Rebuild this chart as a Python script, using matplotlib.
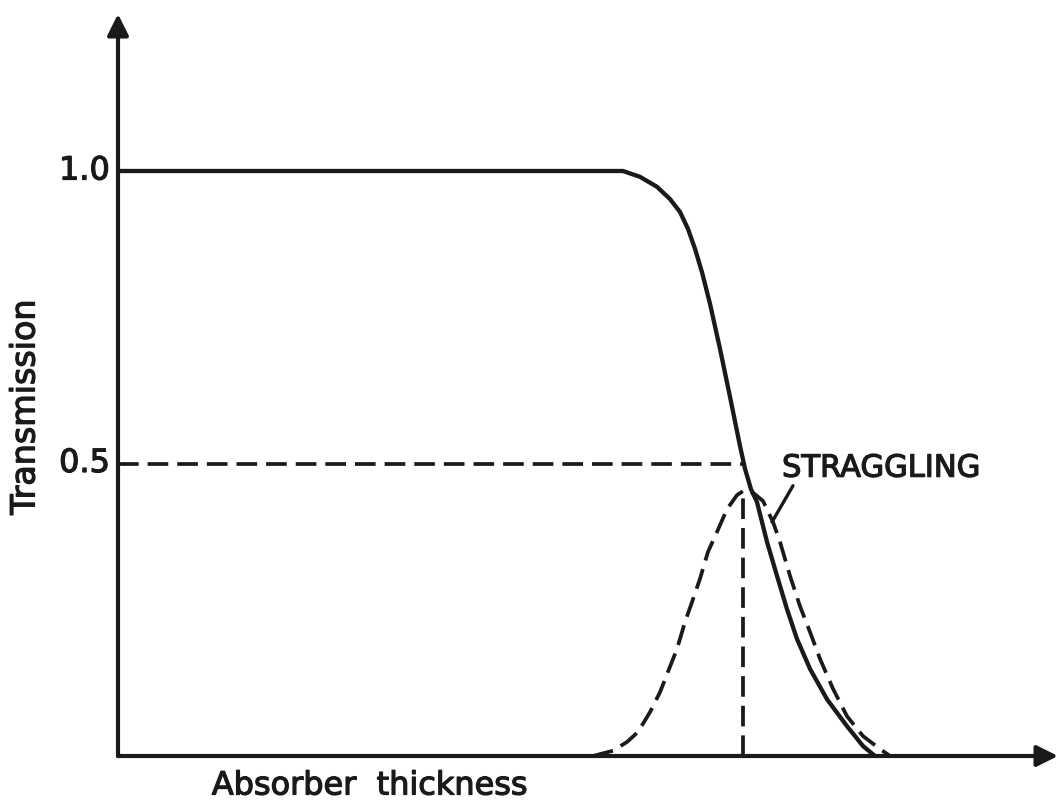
import matplotlib.pyplot as plt
import matplotlib.patheffects as pe

# transmission curve (absorber thickness in arbitrary units)
thick = [0.00, 4.92, 5.05, 5.22, 5.39, 5.52, 5.62, 5.70, 5.77, 5.84, 5.92, 6.02, 6.12, 6.22,
         6.27, 6.33, 6.39, 6.49, 6.59, 6.69, 6.79, 6.92, 7.09, 7.29, 7.45, 7.57]
trans = [1.000, 1.000, 1.000, 0.990, 0.973, 0.952, 0.930, 0.901, 0.867, 0.827, 0.773, 0.696, 0.614, 0.530,
         0.491, 0.456, 0.434, 0.366, 0.308, 0.251, 0.200, 0.149, 0.097, 0.051, 0.017, 0.000]

# range straggling distribution (dashed)
strag_x = [4.75, 4.95, 5.09, 5.20, 5.32, 5.42, 5.50, 5.59, 5.67, 5.75, 5.82, 5.90, 5.99, 6.09, 6.19,
           6.27, 6.35, 6.45, 6.55, 6.62, 6.72, 6.82, 6.92, 7.02, 7.15, 7.29, 7.45, 7.62, 7.72]
strag_y = [0.000, 0.009, 0.024, 0.041, 0.075, 0.109, 0.144, 0.183, 0.229, 0.268, 0.303, 0.349, 0.383, 0.422, 0.446,
           0.455, 0.450, 0.436, 0.400, 0.366, 0.308, 0.256, 0.212, 0.166, 0.115, 0.068, 0.034, 0.012, 0.000]

mean_range = 6.25
half_level = 0.5
peak = 0.45
yticks = [0.5, 1.0]
ytick_labels = ['0.5', '1.0']

fig = plt.figure(figsize=(10.61, 8.03), dpi=100)
ax = fig.add_axes([118 / 1061, 46 / 803, 940 / 1061, 742 / 803])
ax.set_xlim(0, 9.40)
ax.set_ylim(0, 742 / 585)
ax.axis('off')

ink = '#1a1a1a'
dash = (5.5, 2.4)
thick_txt = [pe.withStroke(linewidth=0.9, foreground=ink)]

# axes with arrow heads
ax.annotate('', xy=(9.40, 0), xytext=(0, 0),
            arrowprops=dict(arrowstyle='-|>', lw=3.0, color=ink, mutation_scale=32, shrinkA=0, shrinkB=0))
ax.annotate('', xy=(0, 742 / 585), xytext=(0, 0),
            arrowprops=dict(arrowstyle='-|>', lw=3.0, color=ink, mutation_scale=32, shrinkA=0, shrinkB=0))

ax.plot(thick, trans, color=ink, lw=3.1, solid_capstyle='round', solid_joinstyle='round')
ax.plot(strag_x, strag_y, color=ink, lw=2.7, dashes=dash)
ax.plot([0, mean_range], [half_level, half_level], color=ink, lw=2.7, dashes=dash)
ax.plot([mean_range, mean_range], [0, peak], color=ink, lw=2.7, dashes=dash)

for v, lab in zip(yticks, ytick_labels):
    ax.text(-0.08, v, lab, ha='right', va='center', fontsize=23, color=ink, path_effects=thick_txt)

ax.text(6.64, 0.492, 'STRAGGLING', ha='left', va='center', fontsize=22, color=ink, path_effects=thick_txt)
ax.annotate('', xy=(6.54, 0.400), xytext=(6.75, 0.462),
            arrowprops=dict(arrowstyle='-', lw=2.4, color=ink, shrinkA=0, shrinkB=0))

fig.text(25 / 1061, 1 - 408 / 803, 'Transmission', rotation=90, ha='center', va='center',
         fontsize=24, color=ink, path_effects=thick_txt)
fig.text(370 / 1061, 1 - 787 / 803, 'Absorber  thickness', ha='center', va='center',
         fontsize=23, color=ink, path_effects=thick_txt)

fig.savefig('out.png', dpi=100, facecolor='white')
